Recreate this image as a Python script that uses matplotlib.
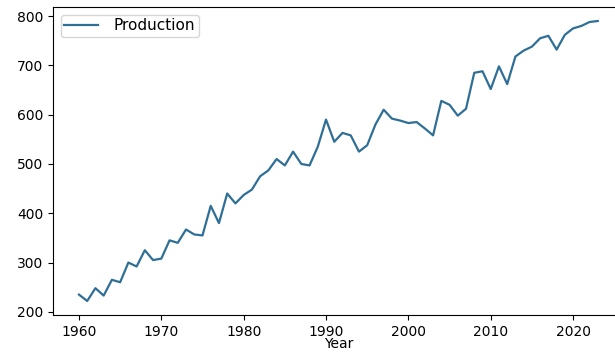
import numpy as np
import matplotlib
matplotlib.use("Agg")
import matplotlib.pyplot as plt

years = np.arange(1960, 2024)
production = [
    235, 222, 248, 233, 265, 260, 300, 292, 325, 305,
    308, 345, 340, 367, 357, 355, 415, 380, 440, 420,
    437, 448, 475, 487, 510, 497, 525, 500, 497, 535,
    590, 545, 563, 558, 525, 538, 580, 610, 592, 588,
    583, 585, 572, 558, 628, 620, 598, 612, 685, 688,
    652, 698, 662, 718, 730, 738, 755, 760, 732, 762,
    775, 780, 788, 790,
]

fig = plt.figure(figsize=(6.15, 3.54), dpi=100)
# axes run slightly past the right edge of the figure
ax = fig.add_axes([0.0862, 0.1102, 0.928, 0.870])
ax.plot(years, production, color="#2f6f96", linewidth=1.6, label="Production")
ax.set_xlabel("Year", labelpad=-1)
ax.legend(loc="upper left", fontsize=11, handlelength=2.2, handletextpad=1.0,
          borderpad=0.25, borderaxespad=0.5)

fig.savefig("out.png", dpi=100)
